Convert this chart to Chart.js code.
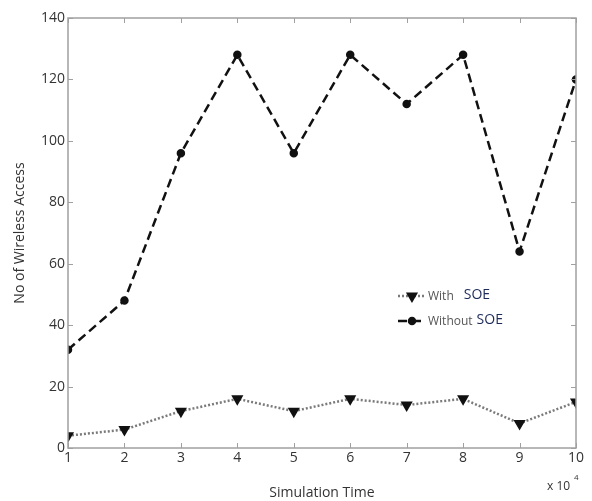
<!DOCTYPE html>
<html>
<head>
<meta charset="utf-8">
<style>
  html, body { margin: 0; padding: 0; background: #fff; }
  #wrap { width: 592px; height: 501px; position: relative; }
</style>
<script src="https://cdn.jsdelivr.net/npm/chart.js@4.4.1/dist/chart.umd.min.js"></script>
</head>
<body>
<div id="wrap"><canvas id="chart" width="592" height="501"></canvas></div>
<script>
// data
const simTime = [1, 2, 3, 4, 5, 6, 7, 8, 9, 10];
const withSOE = [4, 6, 12, 16, 12, 16, 14, 16, 8, 15];
const withoutSOE = [32, 48, 96, 128, 96, 128, 112, 128, 64, 120];
const yTicks = [0, 20, 40, 60, 80, 100, 120, 140];

const axisColor = '#a0a0a0';
const textColor = '#333';

// inward ticks, box on top/right, exponent label and inline legend
const framePlugin = {
    id: 'frame',
    afterDraw(chart) {
        const ctx = chart.ctx;
        const a = chart.chartArea;
        const xs = chart.scales.x, ys = chart.scales.y;
        ctx.save();
        ctx.strokeStyle = axisColor;
        ctx.lineWidth = 1.5;
        ctx.strokeRect(a.left, a.top, a.right - a.left, a.bottom - a.top);
        ctx.lineWidth = 1;
        simTime.forEach(v => {
            const px = Math.round(xs.getPixelForValue(v)) + 0.5;
            ctx.beginPath();
            ctx.moveTo(px, a.bottom); ctx.lineTo(px, a.bottom - 5);
            ctx.moveTo(px, a.top); ctx.lineTo(px, a.top + 5);
            ctx.stroke();
        });
        yTicks.forEach(v => {
            const py = Math.round(ys.getPixelForValue(v)) + 0.5;
            ctx.beginPath();
            ctx.moveTo(a.left, py); ctx.lineTo(a.left + 5, py);
            ctx.moveTo(a.right, py); ctx.lineTo(a.right - 5, py);
            ctx.stroke();
        });

        // x 10^4
        ctx.fillStyle = textColor;
        ctx.font = '12px "Open Sans"';
        ctx.textBaseline = 'alphabetic';
        ctx.textAlign = 'left';
        ctx.fillText('x 10', 547, 490);
        ctx.font = '8px "Open Sans"';
        ctx.fillText('4', 574, 480);

        // legend
        const items = [
            { ds: chart.data.datasets[0], name: 'With', y: 296 },
            { ds: chart.data.datasets[1], name: 'Without', y: 321 }
        ];
        items.forEach(it => {
            const ds = it.ds;
            ctx.strokeStyle = ds.borderColor;
            ctx.lineWidth = ds.borderWidth;
            ctx.setLineDash(ds.borderDash);
            ctx.beginPath();
            ctx.moveTo(398, it.y); ctx.lineTo(426, it.y);
            ctx.stroke();
            ctx.setLineDash([]);
            ctx.fillStyle = '#111';
            ctx.strokeStyle = '#111';
            Chart.helpers.drawPoint(ctx, {
                pointStyle: ds.pointStyle, rotation: ds.pointRotation || 0,
                radius: ds.pointRadius, borderWidth: 1
            }, 412, it.y);
            ctx.fillStyle = '#555';
            ctx.font = '12px "Open Sans"';
            ctx.textBaseline = 'middle';
            ctx.fillText(it.name, 428, it.y + 1);
            const w = ctx.measureText(it.name).width;
            ctx.fillStyle = '#1c2a5a';
            ctx.font = '14px "Open Sans"';
            ctx.fillText('SOE', 428 + w + (it.name === 'With' ? 10 : 4), it.y - 1);
        });
        ctx.restore();
    }
};

new Chart(document.getElementById('chart'), {
    type: 'line',
    data: {
        datasets: [{
            label: 'With SOE',
            data: simTime.map((t, i) => ({ x: t, y: withSOE[i] })),
            borderColor: '#7a7a7a',
            backgroundColor: '#111',
            pointBackgroundColor: '#111',
            pointBorderColor: '#111',
            borderWidth: 2.5,
            borderDash: [2, 2],
            pointStyle: 'triangle',
            pointRotation: 180,
            pointRadius: 4.5,
            tension: 0
        }, {
            label: 'Without SOE',
            data: simTime.map((t, i) => ({ x: t, y: withoutSOE[i] })),
            borderColor: '#111',
            backgroundColor: '#111',
            pointBackgroundColor: '#111',
            pointBorderColor: '#111',
            borderWidth: 2.5,
            borderDash: [9, 5],
            pointStyle: 'circle',
            pointRadius: 3,
            tension: 0
        }]
    },
    options: {
        responsive: false,
        animation: false,
        layout: { padding: { top: 18, right: 16, left: 0, bottom: 0 } },
        plugins: { legend: { display: false }, tooltip: { enabled: false } },
        scales: {
            x: {
                type: 'linear', min: 1, max: 10,
                afterFit: s => { s.height = 53; },
                afterBuildTicks: s => { s.ticks = simTime.map(v => ({ value: v })); },
                grid: { display: false, drawTicks: false },
                border: { display: false },
                ticks: { color: textColor, font: { family: 'Open Sans', size: 14 }, padding: 2 },
                title: { display: true, text: 'Simulation Time', color: textColor,
                         font: { family: 'Open Sans', size: 14 }, padding: { top: 10, bottom: 0 } }
            },
            y: {
                min: 0, max: 140,
                afterFit: s => { s.width = 68; },
                afterBuildTicks: s => { s.ticks = yTicks.map(v => ({ value: v })); },
                grid: { display: false, drawTicks: false },
                border: { display: false },
                ticks: { color: textColor, font: { family: 'Open Sans', size: 14 }, padding: 3 },
                title: { display: true, text: 'No of Wireless Access', color: textColor,
                         font: { family: 'Open Sans', size: 14 }, padding: { top: 12, bottom: 0 } }
            }
        }
    },
    plugins: [framePlugin]
});
</script>
</body>
</html>
